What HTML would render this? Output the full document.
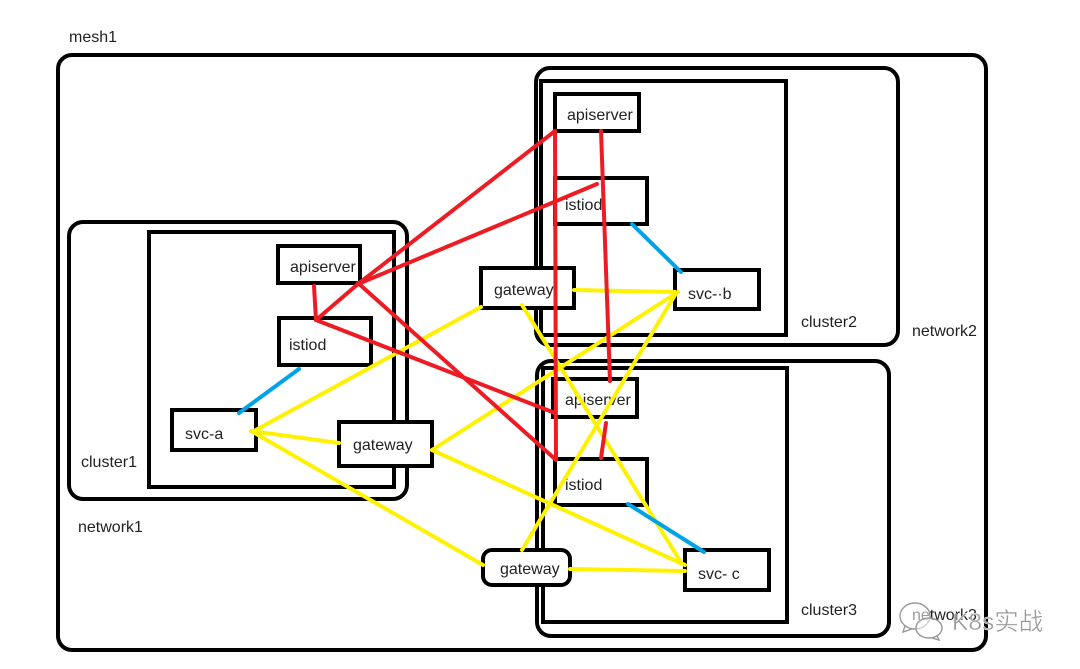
<!DOCTYPE html>
<html>
<head>
<meta charset="utf-8">
<style>
html,body{margin:0;padding:0;background:#fff;width:1080px;height:669px;overflow:hidden}
svg{display:block}
text{font-family:"Liberation Sans","Noto Sans CJK SC",sans-serif;font-size:16px;fill:#222}
.c{fill:none;stroke:#000;stroke-width:4}
.b{fill:#fff;stroke:#000;stroke-width:4}
.r{stroke:#ed1c24;stroke-width:4;fill:none;stroke-linecap:round}
.y{stroke:#fff200;stroke-width:4;fill:none;stroke-linecap:round}
.l{stroke:#00a2e8;stroke-width:4;fill:none;stroke-linecap:round}
</style>
</head>
<body>
<svg width="1080" height="669" viewBox="0 0 1080 669" xmlns="http://www.w3.org/2000/svg">
<rect width="1080" height="669" fill="#fff"/>
<rect class="c" x="58" y="55" width="928" height="595" rx="14"/>
<rect class="c" x="69" y="222" width="338" height="277" rx="14"/>
<rect class="c" x="536" y="68" width="362" height="277" rx="14"/>
<rect class="c" x="537" y="361" width="352" height="275" rx="14"/>
<rect class="c" x="149" y="232" width="245" height="255"/>
<rect class="c" x="541" y="81" width="245" height="254"/>
<rect class="c" x="543" y="368" width="244" height="254"/>

<rect class="b" x="278" y="246" width="82" height="37"/>
<rect class="b" x="279" y="318" width="92" height="47"/>
<rect class="b" x="172" y="410" width="84" height="40"/>
<rect class="b" x="339" y="422" width="93" height="44"/>
<rect class="b" x="481" y="268" width="93" height="40"/>
<rect class="b" x="555" y="94" width="84" height="37"/>
<rect class="b" x="555" y="178" width="92" height="46"/>
<rect class="b" x="675" y="270" width="84" height="39"/>
<rect class="b" x="553" y="379" width="84" height="38"/>
<rect class="b" x="555" y="459" width="92" height="46"/>
<rect class="b" x="685" y="550" width="84" height="40"/>
<rect class="b" x="483" y="550" width="87" height="35" rx="9"/>

<text x="69" y="42">mesh1</text>
<text x="81" y="467">cluster1</text>
<text x="78" y="532">network1</text>
<text x="801" y="327">cluster2</text>
<text x="912" y="336">network2</text>
<text x="801" y="615">cluster3</text>
<text x="912" y="620">network3</text>
<text x="290" y="272">apiserver</text>
<text x="289" y="350">istiod</text>
<text x="185" y="439">svc-a</text>
<text x="353" y="450">gateway</text>
<text x="494" y="295">gateway</text>
<text x="567" y="120">apiserver</text>
<text x="565" y="210">istiod</text>
<text x="688" y="299">svc-·b</text>
<text x="565" y="405">apiserver</text>
<text x="565" y="490">istiod</text>
<text x="698" y="579">svc- c</text>
<text x="500" y="574">gateway</text>

<g class="y">
<path d="M254 431L481 307"/>
<path d="M251 431L339 443"/>
<path d="M251 431L483 565"/>
<path d="M574 290L675 292"/>
<path d="M522 305L682 564"/>
<path d="M432 450L678 292"/>
<path d="M432 450L685 565"/>
<path d="M570 569L685 571"/>
<path d="M522 550L675 295"/>
</g>
<g class="r">
<path d="M314 286L316 320"/>
<path d="M316 320L358 284"/>
<path d="M358 284L555 131"/>
<path d="M358 284L597 184"/>
<path d="M555 131L556 460"/>
<path d="M358 283L555 459"/>
<path d="M316 320L555 413"/>
<path d="M601 131L610 381"/>
<path d="M606 423L601 458"/>
</g>
<g class="l">
<path d="M299 369L239 413"/>
<path d="M632 224L681 272"/>
<path d="M628 504L704 552"/>
</g>

<g fill="#fff" fill-opacity=".55" stroke="#999" stroke-width="1.4">
<ellipse cx="915" cy="616" rx="15" ry="13"/>
<path d="M905 626L903 632L912 629" fill="none"/>
<ellipse cx="929" cy="628" rx="13" ry="10"/>
<path d="M937 636L939 640L932 638" fill="none"/>
</g>
<text x="952" y="630" style="font-size:24.5px;fill:#999;stroke:#fff;stroke-width:.4">K8s实战</text>
</svg>
</body>
</html>
